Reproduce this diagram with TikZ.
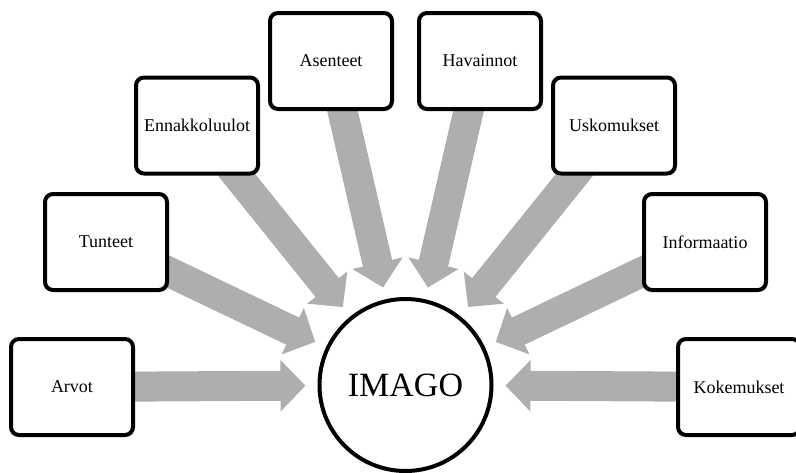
\documentclass[tikz,border=0pt]{standalone}
\usepackage{fontspec}
\setmainfont{Liberation Serif}
\usetikzlibrary{arrows.meta,backgrounds}
\definecolor{arrowgray}{RGB}{174,174,174}
\begin{document}
\begin{tikzpicture}[x=1pt,y=-1pt,
  box/.style={draw=black, line width=4pt, rounded corners=8pt, fill=white,
    minimum width=122pt, minimum height=96pt, inner sep=0pt,
    font=\fontsize{18}{20}\selectfont},
  hub/.style={circle, draw=black, line width=4pt, fill=white,
    minimum size=172pt, inner sep=0pt, font=\fontsize{34}{36}\selectfont},
  flow/.style={draw=arrowgray, line width=30pt,
    -{Triangle[length=25pt,width=50pt]}, shorten <=-30pt, shorten >=12pt}
]
\useasboundingbox (0,0) rectangle (796,472);
\node[hub] (C) at (405.5,385) {IMAGO};
\node[box] (arvot) at (72,387) {Arvot};
\node[box] (tunteet) at (106,242) {Tunteet};
\node[box] (ennak) at (197,125.5) {Ennakkoluulot};
\node[box] (asenteet) at (331,61) {Asenteet};
\node[box] (havainnot) at (480,61) {Havainnot};
\node[box] (uskomukset) at (614,125.5) {Uskomukset};
\node[box] (informaatio) at (705,242) {Informaatio};
\node[box] (kokemukset) at (739,387) {Kokemukset};
\begin{scope}[on background layer]
\foreach \b in {arvot,tunteet,ennak,asenteet,havainnot,uskomukset,informaatio,kokemukset}
  \draw[flow] (\b) -- (C);
\end{scope}
\end{tikzpicture}
\end{document}
